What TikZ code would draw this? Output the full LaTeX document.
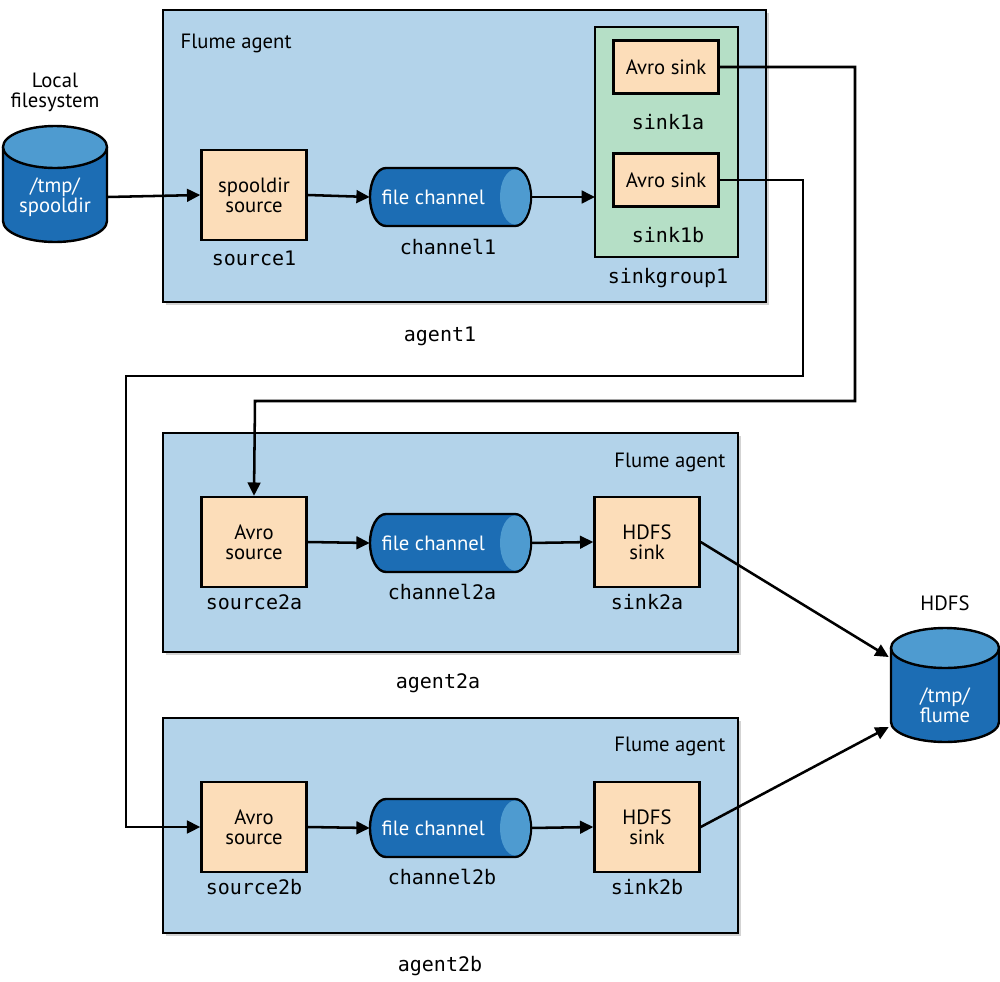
\documentclass[tikz,border=0pt]{standalone}
\usepackage{fontspec}
\setmainfont{PT Sans}
\newfontfamily\monof{DejaVu Sans Mono}
\usetikzlibrary{arrows.meta,calc,shadows}
\definecolor{agentbg}{HTML}{B3D3EA}
\definecolor{boxbg}{HTML}{FCDDB9}
\definecolor{grpbg}{HTML}{B5DFC6}
\definecolor{cyldark}{HTML}{1C6DB4}
\definecolor{cyllight}{HTML}{4E9BD0}
\newcommand{\vcylinder}[5]{% cx, top, bottom, rx, ry
  \fill[cyldark] (#1-#4,#2) -- (#1-#4,#3) arc(180:0:#4 and #5) -- (#1+#4,#2) -- cycle;
  \draw[line width=1.8pt] (#1-#4,#2) -- (#1-#4,#3) arc(180:0:#4 and #5) -- (#1+#4,#2);
  \filldraw[fill=cyllight,line width=1.8pt] (#1,#2) ellipse (#4 and #5);
}
\newcommand{\hcylinder}[5]{% left, right, cy, h, e
  \filldraw[fill=cyldark,line width=1.8pt] (#2-#5,#3-#4) -- (#1+#5,#3-#4) arc(270:90:#5 and #4) -- (#2-#5,#3+#4) arc(90:-90:#5 and #4) -- cycle;
  \fill[cyllight] (#2-#5,#3) ellipse (#5-1 and #4-1.5);
}
\tikzset{
  agent/.style={draw,line width=1.8pt,fill=agentbg,drop shadow={opacity=0.35,shadow xshift=2pt,shadow yshift=-2pt}},
  comp/.style={draw,line width=1.8pt,fill=boxbg,minimum width=78.75pt,minimum height=67.5pt,inner sep=0pt,align=center,font=\fontsize{15.5}{18}\selectfont},
  avro/.style={comp,minimum height=40pt},
  lbl/.style={font=\monof\fontsize{15}{17}\selectfont},
  txt/.style={font=\fontsize{15.5}{18}\selectfont,align=center},
  anch/.style={inner sep=0pt,minimum width=#1},
  conn/.style={line width=1.9pt,-{Triangle[length=10pt,width=9.5pt]}},
}
\begin{document}
\begin{tikzpicture}[x=0.75pt,y=-0.75pt]
\useasboundingbox (0,0) rectangle (1000,982);
% agent boxes
\draw[agent] (163,10) rectangle (766,302);
\draw[agent] (163,433) rectangle (738,652);
\draw[agent] (163,718) rectangle (738,933);
\draw[line width=1.8pt,fill=grpbg] (595,27) rectangle (738,257);
\node[txt,anchor=west] (fa1) at (176,43) {Flume agent};
\node[txt,anchor=east] (fa2) at (730,462) {Flume agent};
\node[txt,anchor=east] (fa3) at (730,746) {Flume agent};
% local fs
\node[txt] (lfs) at (55,92) {Local\\[-3pt]filesystem};
\vcylinder{55}{147}{221}{52}{21}
\node[anch=78pt,minimum height=70pt,txt,text=white] (fs) at (55,197) {/tmp/\\[-3pt]spooldir};
% HDFS
\node[txt] (hdfslbl) at (945,603) {HDFS};
\vcylinder{945}{648}{722}{54}{20}
\node[anch=81pt,minimum height=70pt,txt,text=white] (hdfs) at (945,705) {/tmp/\\[-3pt]flume};
% agent1
\node[comp] (src1) at (254,195) {spooldir\\[-3pt]source};
\node[lbl] (src1l) at (254,258) {source1};
\hcylinder{370}{531}{197}{29}{16}
\node[anch=120pt,minimum height=44pt,txt,text=white] (ch1) at (450,197) {\hspace*{-25pt}file channel};
\node[lbl] (ch1l) at (448,247) {channel1};
\node[avro] (s1a) at (666,67) {Avro sink};
\node[lbl] (s1al) at (668,122) {sink1a};
\node[avro] (s1b) at (666,180) {Avro sink};
\node[lbl] (s1bl) at (668,235) {sink1b};
\node[lbl] (sgl) at (668,278) {sinkgroup1};
\coordinate (sg) at (595,197);
\node[lbl] (a1) at (440,336) {agent1};
\draw[conn] (fs.east) -- (src1.west);
\draw[conn] (src1.east) -- (ch1.west);
\draw[conn] (ch1.east) -- (sg);
% agent2a
\node[comp] (src2a) at (254,542) {Avro\\[-3pt]source};
\node[lbl] (src2al) at (254,602) {source2a};
\hcylinder{370}{531}{543}{29}{16}
\node[anch=120pt,minimum height=44pt,txt,text=white] (ch2a) at (450,543) {\hspace*{-25pt}file channel};
\node[lbl] (ch2al) at (442,592) {channel2a};
\node[comp] (k2a) at (647,542) {HDFS\\[-3pt]sink};
\node[lbl] (k2al) at (647,602) {sink2a};
\node[lbl] (a2a) at (438,683) {agent2a};
\draw[conn] (src2a.east) -- (ch2a.west);
\draw[conn] (ch2a.east) -- (k2a.west);
% agent2b
\node[comp] (src2b) at (254,827) {Avro\\[-3pt]source};
\node[lbl] (src2bl) at (254,887) {source2b};
\hcylinder{370}{531}{828}{29}{16}
\node[anch=120pt,minimum height=44pt,txt,text=white] (ch2b) at (450,828) {\hspace*{-25pt}file channel};
\node[lbl] (ch2bl) at (442,877) {channel2b};
\node[comp] (k2b) at (647,827) {HDFS\\[-3pt]sink};
\node[lbl] (k2bl) at (647,887) {sink2b};
\node[lbl] (a2b) at (440,966) {agent2b};
\draw[conn] (src2b.east) -- (ch2b.west);
\draw[conn] (ch2b.east) -- (k2b.west);
% long connectors
\draw[conn] (s1a.east) -- (855,67) -- (855,401) -- (255,401) -- (src2a.north);
\draw[conn] (s1b.east) -- (803,180) -- (803,376) -- (126,376) -- (126,827) -- (src2b.west);
\draw[conn] (k2a.east) -- ($(hdfs.west)+(-2,-48)$);
\draw[conn] (k2b.east) -- ($(hdfs.west)+(-2,22)$);
\end{tikzpicture}
\end{document}
